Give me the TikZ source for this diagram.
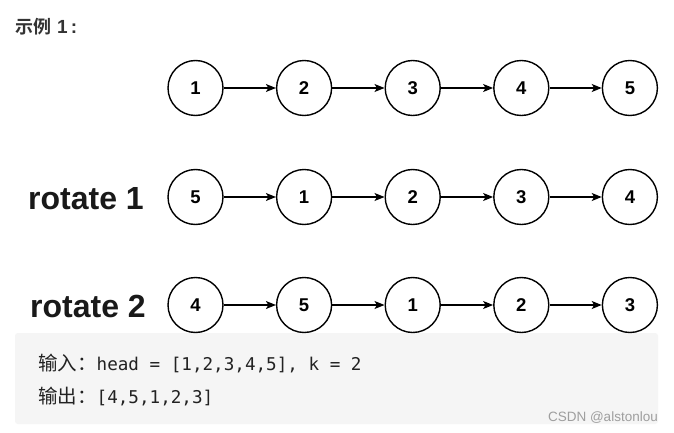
\documentclass[tikz,border=0pt]{standalone}
\usepackage{fontspec}
\setmainfont{Liberation Sans}
\newfontfamily\cjk{Noto Sans CJK SC}
\newfontfamily\cjkb{Noto Sans CJK SC Bold}
\newfontfamily\monof{DejaVu Sans Mono}
\usetikzlibrary{arrows.meta}
\definecolor{boxbg}{HTML}{F5F5F5}
\definecolor{txt}{HTML}{333333}
\definecolor{codetxt}{HTML}{222222}
\definecolor{wm}{HTML}{9E9E9E}
\begin{document}
\begin{tikzpicture}[x=1pt,y=-1pt,
  listnode/.style={circle,draw=black,line width=1.4pt,minimum size=55pt,inner sep=0pt,
    font=\fontsize{18.5}{18.5}\selectfont\bfseries},
  arr/.style={line width=1.3pt,-{Stealth[length=10pt,width=8pt,inset=2.5pt]}},
  rotlabel/.style={anchor=base east,inner sep=0pt,font=\fontsize{32}{32}\selectfont\bfseries,text=black!90},
  codeline/.style={anchor=base west,inner sep=0pt,text=codetxt}]
\useasboundingbox (0,0) rectangle (674,433);
\fill[white] (0,0) rectangle (674,433);
% title
\node[anchor=base west,inner sep=0pt,text=txt] (title) at (15,34)
  {{\cjkb\fontsize{18}{18}\selectfont 示例}\hspace{6pt}{\fontsize{19}{18}\selectfont\bfseries 1\,:}};
% code box
\fill[boxbg,rounded corners=3pt] (15,333) rectangle (658,424);
\node[codeline] (l1) at (38,370)
  {{\cjk\fontsize{19.5}{20}\selectfont 输入：}{\monof\fontsize{17.6}{18}\selectfont head = [1,2,3,4,5], k = 2}};
\node[codeline] (l2) at (38,403)
  {{\cjk\fontsize{19.5}{20}\selectfont 输出：}{\monof\fontsize{17.6}{18}\selectfont [4,5,1,2,3]}};
\node[anchor=base east,inner sep=0pt,text=wm,font=\fontsize{13.5}{14}\selectfont] (wmk) at (658,421) {CSDN @alstonlou};
% rows
\foreach \r/\y/\labs in {a/88/{1,2,3,4,5},b/197/{5,1,2,3,4},c/305/{4,5,1,2,3}}{
  \foreach \v [count=\i] in \labs {
    \node[listnode] (\r\i) at ({195.5+108.6*(\i-1)},\y) {\v};
  }
  \foreach \i [evaluate=\i as \j using int(\i+1)] in {1,2,3,4}{
    \draw[arr] (\r\i) -- (\r\j);
  }
}
\node[rotlabel] (rot1) at (144,209) {rotate 1};
\node[rotlabel] (rot2) at (146,317) {rotate 2};
\end{tikzpicture}
\end{document}
